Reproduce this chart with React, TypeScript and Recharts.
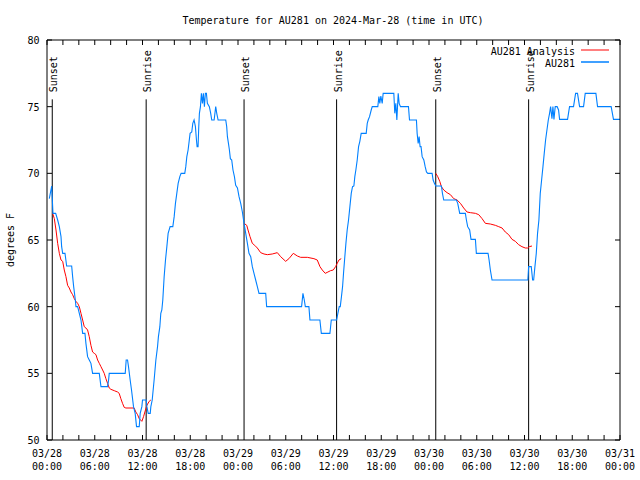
import React from 'react';
import { LineChart, Line, XAxis, YAxis, ReferenceLine, Customized } from 'recharts';

const FONT = '"DejaVu Sans Mono", "Liberation Mono", monospace';
const BLUE = '#0080ff';
const RED = '#ff0000';

// hours since 03/28 00:00 UTC, temperature in °F
const stationDay1: [number, number][] = [
  [0.29, 68.1], [0.59, 69.05], [0.75, 67.0], [1.09, 67.0], [1.34, 66.5], [1.55, 66.0],
  [1.76, 65.25], [1.84, 64.5], [1.97, 64.0], [2.26, 64.0], [2.47, 63.05], [3.1, 63.05],
  [3.22, 62.25], [3.35, 61.5], [3.56, 60.5], [3.64, 60.0], [3.85, 60.0], [4.06, 59.5],
  [4.27, 59.0], [4.48, 58.0], [4.77, 58.0], [4.89, 57.25], [5.1, 56.25], [5.31, 56.0],
  [5.52, 55.75], [5.73, 55.0], [6.57, 55.0], [6.78, 54.0], [7.61, 54.0], [7.74, 54.5],
  [7.82, 55.0], [9.83, 55.0], [9.95, 56.0], [10.12, 56.0], [10.24, 55.5], [10.45, 54.5],
  [10.62, 53.75], [10.87, 52.5], [11.08, 52.0], [11.25, 51.0], [11.59, 51.0], [11.71, 52.0],
  [11.92, 52.5], [12.0, 53.0], [12.46, 53.0], [12.55, 52.5], [12.72, 52.0], [12.97, 52.0],
  [13.05, 52.5], [13.22, 53.0], [13.46, 54.5], [13.68, 56.0], [13.89, 57.0], [14.0, 57.75],
  [14.18, 58.5], [14.3, 59.5], [14.43, 59.75], [14.55, 60.5], [14.72, 62.25], [14.89, 63.5],
  [15.06, 64.5], [15.22, 65.5], [15.47, 66.0], [15.81, 66.0], [15.98, 66.75], [16.14, 67.75],
  [16.31, 68.5], [16.48, 69.25], [16.69, 69.75], [16.85, 70.0], [17.31, 70.0], [17.44, 70.5],
  [17.57, 71.25], [17.73, 71.75], [17.86, 72.4], [17.98, 73.0], [18.19, 73.1], [18.32, 73.75],
  [18.48, 74.0], [18.65, 73.5], [18.78, 72.5], [18.86, 72.0], [18.98, 72.0], [19.07, 73.5],
  [19.15, 74.5], [19.28, 75.0], [19.4, 76.0], [19.53, 75.25], [19.65, 76.0], [19.78, 75.0],
  [19.9, 76.0], [20.03, 76.0], [20.15, 75.25], [20.4, 75.0], [20.57, 74.5], [20.7, 74.0],
  [21.0, 74.0], [21.2, 75.0], [21.33, 74.5], [21.5, 74.0], [22.46, 74.0], [22.58, 73.5],
  [22.67, 72.75], [22.8, 72.25], [22.92, 71.75], [23.04, 71.1], [23.21, 71.0], [23.37, 70.25],
  [23.55, 69.75], [23.71, 69.1], [23.93, 68.9],
];

const stationDay2: [number, number][] = [
  [24.13, 68.25], [24.34, 67.75], [24.55, 67.1], [24.76, 66.25], [24.97, 65.5], [25.18, 64.75],
  [25.38, 64.0], [25.6, 63.75], [25.8, 63.0], [26.01, 62.5], [26.22, 62.0], [26.43, 61.5],
  [26.64, 61.0], [27.48, 61.0], [27.6, 60.0], [31.99, 60.0], [32.16, 61.0], [32.33, 60.5],
  [32.46, 60.0], [32.91, 60.0], [33.04, 59.0], [34.29, 59.0], [34.47, 58.0], [35.55, 58.0],
  [35.72, 59.0], [36.39, 59.0], [36.55, 59.5], [36.72, 60.0], [36.85, 60.0], [37.0, 60.75],
  [37.14, 61.5], [37.26, 62.5], [37.39, 63.5], [37.56, 64.75], [37.72, 65.75], [37.89, 66.5],
  [38.06, 67.5], [38.23, 68.5], [38.39, 69.0], [38.56, 69.05], [38.68, 69.75], [38.81, 70.25],
  [38.98, 71.0], [39.15, 72.0], [39.31, 72.4], [39.48, 73.0], [40.11, 73.0], [40.24, 73.75],
  [40.36, 74.0], [40.53, 74.25], [40.74, 74.75], [40.87, 75.0], [41.57, 75.0], [41.7, 75.75],
  [41.82, 75.25], [41.95, 75.8], [42.12, 75.25], [42.24, 76.0], [43.58, 76.0], [43.7, 74.5],
  [43.83, 75.25], [43.96, 74.0], [44.13, 76.0], [44.25, 75.25], [44.42, 75.0], [45.42, 75.0],
  [45.55, 74.0], [46.42, 74.0], [46.51, 73.0], [46.64, 72.25], [46.76, 72.75], [46.88, 72.0],
  [47.0, 72.0], [47.14, 71.25], [47.35, 71.0], [47.52, 70.5], [47.68, 70.1], [47.85, 70.0],
];

const stationDay3: [number, number][] = [
  [48.39, 70.0], [48.52, 69.5], [48.68, 69.25], [48.85, 69.05], [49.56, 69.05], [49.69, 68.5],
  [49.85, 68.0], [51.44, 68.0], [51.61, 67.75], [51.86, 67.0], [52.57, 67.0], [52.7, 66.5],
  [52.86, 66.0], [53.11, 65.75], [53.28, 65.05], [53.83, 65.05], [53.95, 64.0], [55.42, 64.0],
  [55.55, 63.5], [55.71, 62.75], [55.92, 62.0], [60.42, 62.0], [60.52, 63.0], [60.85, 63.0],
  [61.02, 62.0], [61.15, 62.0], [61.31, 63.0], [61.48, 64.0], [61.64, 65.5], [61.81, 66.5],
  [61.98, 68.5], [62.15, 69.5], [62.32, 70.5], [62.48, 71.5], [62.65, 72.5], [62.82, 73.25],
  [62.99, 74.0], [63.15, 74.5], [63.28, 75.0], [63.45, 74.1], [63.57, 75.0], [63.7, 74.05],
  [63.86, 75.0], [64.1, 75.0], [64.28, 74.75], [64.41, 74.05], [65.41, 74.05], [65.66, 75.0],
  [66.16, 75.0], [66.42, 76.0], [66.66, 76.0], [66.92, 75.0], [67.42, 75.0], [67.63, 76.0],
  [68.97, 76.0], [69.18, 75.0], [70.89, 75.0], [71.18, 74.05], [72.0, 74.05],
];

const analysisNight1: [number, number][] = [
  [0.71, 67.0], [0.92, 66.6], [1.13, 65.75], [1.34, 64.75], [1.55, 64.0], [1.76, 63.5],
  [1.97, 63.4], [2.17, 62.75], [2.38, 62.25], [2.59, 61.6], [2.8, 61.4], [3.01, 61.1],
  [3.22, 60.9], [3.43, 60.6], [3.64, 60.4], [3.85, 60.25], [4.06, 60.0], [4.27, 59.5],
  [4.48, 59.0], [4.68, 58.5], [4.89, 58.4], [5.1, 58.25], [5.31, 57.75], [5.52, 57.1],
  [5.73, 56.6], [5.94, 56.5], [6.15, 56.4], [6.36, 56.0], [6.57, 55.75], [6.78, 55.5],
  [6.99, 55.25], [7.19, 55.0], [7.4, 54.6], [7.61, 54.25], [7.82, 53.9], [8.03, 53.8],
  [8.45, 53.7], [8.87, 53.6], [9.07, 53.5], [9.28, 53.1], [9.49, 52.75], [9.7, 52.45],
  [9.91, 52.4], [10.95, 52.4], [11.16, 52.1], [11.38, 51.9], [11.59, 51.6], [11.92, 51.4],
  [12.13, 51.75], [12.3, 52.1], [12.55, 52.6], [12.84, 52.9], [13.05, 53.0],
];

const analysisNight2: [number, number][] = [
  [24.76, 66.25], [25.1, 66.1], [25.26, 65.75], [25.51, 65.25], [25.8, 64.75], [26.1, 64.6],
  [26.43, 64.4], [26.85, 64.05], [27.27, 63.95], [27.69, 63.9], [28.3, 63.95], [28.94, 64.05],
  [29.36, 63.75], [29.99, 63.4], [30.4, 63.6], [30.95, 64.0], [31.46, 63.8], [31.87, 63.7],
  [32.71, 63.7], [33.54, 63.6], [33.96, 63.5], [34.3, 63.0], [34.59, 62.75], [34.96, 62.5],
  [35.3, 62.6], [35.63, 62.7], [35.97, 62.75], [36.26, 63.0], [36.47, 63.25], [36.68, 63.5],
  [36.97, 63.6],
];

const analysisNight3: [number, number][] = [
  [48.85, 70.0], [49.1, 69.75], [49.35, 69.4], [49.56, 69.0], [49.85, 68.75], [50.27, 68.55],
  [50.69, 68.4], [51.11, 68.1], [51.53, 68.0], [51.95, 67.75], [52.36, 67.4], [52.78, 67.1],
  [53.2, 67.05], [53.83, 67.0], [54.25, 66.9], [54.67, 66.6], [55.08, 66.25], [55.71, 66.2],
  [56.34, 66.1], [56.76, 66.0], [57.18, 65.9], [57.59, 65.6], [58.01, 65.4], [58.43, 65.05],
  [58.85, 64.9], [59.26, 64.65], [59.68, 64.5], [60.1, 64.4], [60.39, 64.4], [60.6, 64.5],
  [60.94, 64.55],
];

const sunHours = [0.66, 12.46, 24.76, 36.39, 48.85, 60.52];
const sunLabels = ['Sunset', 'Sunrise', 'Sunset', 'Sunrise', 'Sunset', 'Sunrise'];

const xTickDates = ['03/28', '03/28', '03/28', '03/28', '03/29', '03/29', '03/29', '03/29', '03/30', '03/30', '03/30', '03/30', '03/31'];
const xTickTimes = ['00:00', '06:00', '12:00', '18:00', '00:00', '06:00', '12:00', '18:00', '00:00', '06:00', '12:00', '18:00', '00:00'];
const xTicks = Array.from({ length: 37 }, (_, i) => i * 2);
const yTicks = [50, 55, 60, 65, 70, 75, 80];

const seriesNames = ['AU281 Analysis', 'AU281'];
const titleText = 'Temperature for AU281 on 2024-Mar-28 (time in UTC)';
const yLabelText = 'degrees F';

const toRows = (pts: [number, number][]) => pts.map(([t, v]) => ({ t, v }));
const stationData = [...toRows(stationDay1), ...toRows(stationDay2), ...toRows(stationDay3)];
const analysisData = [
  ...toRows(analysisNight1),
  { t: 18, v: null },
  ...toRows(analysisNight2),
  { t: 42, v: null },
  ...toRows(analysisNight3),
];

const txt = { fontFamily: FONT, fontSize: 10, fill: '#000' } as const;

const BottomTick = (props: any) => {
  const { x, y, payload } = props;
  const v = payload.value;
  const idx = v / 6;
  const labeled = Number.isInteger(idx);
  return (
    <g>
      <line x1={x} y1={y} x2={x} y2={y - 5} stroke="#000" />
      {labeled && (
        <text x={x} y={y + 17} textAnchor="middle" {...txt}>{xTickDates[idx]}</text>
      )}
      {labeled && (
        <text x={x} y={y + 29.5} textAnchor="middle" {...txt}>{xTickTimes[idx]}</text>
      )}
    </g>
  );
};

const TopTick = (props: any) => {
  const { x, y } = props;
  return <line x1={x} y1={y} x2={x} y2={y + 5} stroke="#000" />;
};

const LeftTick = (props: any) => {
  const { x, y, payload } = props;
  return (
    <g>
      <line x1={x} y1={y} x2={x + 5} y2={y} stroke="#000" />
      <text x={x - 7.5} y={y + 4} textAnchor="end" {...txt}>{payload.value}</text>
    </g>
  );
};

const RightTick = (props: any) => {
  const { x, y } = props;
  return <line x1={x} y1={y} x2={x - 5} y2={y} stroke="#000" />;
};

const SunLabel = (props: any) => {
  const { viewBox, text } = props;
  if (!viewBox) return null;
  const x = viewBox.x + 5;
  const y = viewBox.y - 7;
  return (
    <text x={x} y={y} transform={`rotate(-90 ${x} ${y})`} textAnchor="start" {...txt}>{text}</text>
  );
};

const Overlay = () => (
  <g>
    <text x={333} y={24} textAnchor="middle" {...txt}>{titleText}</text>
    <text x={14} y={240} transform="rotate(-90 14 240)" textAnchor="middle" {...txt}>{yLabelText}</text>
    <text x={575} y={54.5} textAnchor="end" {...txt}>{seriesNames[0]}</text>
    <line x1={581} y1={50} x2={609} y2={50} stroke={RED} strokeWidth={1} />
    <text x={575} y={66.5} textAnchor="end" {...txt}>{seriesNames[1]}</text>
    <line x1={581} y1={62} x2={609} y2={62} stroke={BLUE} strokeWidth={1.5} />
  </g>
);

export default function App() {
  return (
    <div style={{ position: 'absolute', left: 0, top: 0, width: 640, height: 480, background: '#fff' }}>
      <LineChart width={640} height={480} margin={{ top: 30, right: 10, bottom: 10, left: 7 }}>
        <XAxis
          xAxisId="b"
          dataKey="t"
          type="number"
          domain={[0, 72]}
          ticks={xTicks}
          interval={0}
          allowDataOverflow
          orientation="bottom"
          height={30}
          tickSize={0}
          tickMargin={0}
          tickLine={false}
          axisLine={{ stroke: '#000' }}
          tick={<BottomTick />}
        />
        <XAxis
          xAxisId="t"
          dataKey="t"
          type="number"
          domain={[0, 72]}
          ticks={xTicks}
          interval={0}
          allowDataOverflow
          orientation="top"
          height={10}
          tickSize={0}
          tickMargin={0}
          tickLine={false}
          axisLine={{ stroke: '#000' }}
          tick={<TopTick />}
        />
        <YAxis
          yAxisId="l"
          type="number"
          domain={[50, 80]}
          ticks={yTicks}
          interval={0}
          allowDataOverflow
          orientation="left"
          width={40}
          tickSize={0}
          tickMargin={0}
          tickLine={false}
          axisLine={{ stroke: '#000' }}
          tick={<LeftTick />}
        />
        <YAxis
          yAxisId="r"
          type="number"
          domain={[50, 80]}
          ticks={yTicks}
          interval={0}
          allowDataOverflow
          orientation="right"
          width={10}
          tickSize={0}
          tickMargin={0}
          tickLine={false}
          axisLine={{ stroke: '#000' }}
          tick={<RightTick />}
        />
        {sunHours.map((h, i) => (
          <ReferenceLine
            key={`sun-${i}`}
            xAxisId="b"
            yAxisId="l"
            segment={[{ x: h, y: 50 }, { x: h, y: 75.55 }]}
            stroke="#000"
            strokeWidth={1}
            label={<SunLabel text={sunLabels[i]} />}
          />
        ))}
        <Line
          xAxisId="b"
          yAxisId="l"
          data={analysisData}
          dataKey="v"
          type="linear"
          stroke={RED}
          strokeWidth={1}
          dot={false}
          activeDot={false}
          connectNulls={false}
          isAnimationActive={false}
        />
        <Line
          xAxisId="b"
          yAxisId="l"
          data={stationData}
          dataKey="v"
          type="linear"
          stroke={BLUE}
          strokeWidth={1.1}
          dot={false}
          activeDot={false}
          isAnimationActive={false}
        />
        <Customized component={Overlay} />
      </LineChart>
    </div>
  );
}
